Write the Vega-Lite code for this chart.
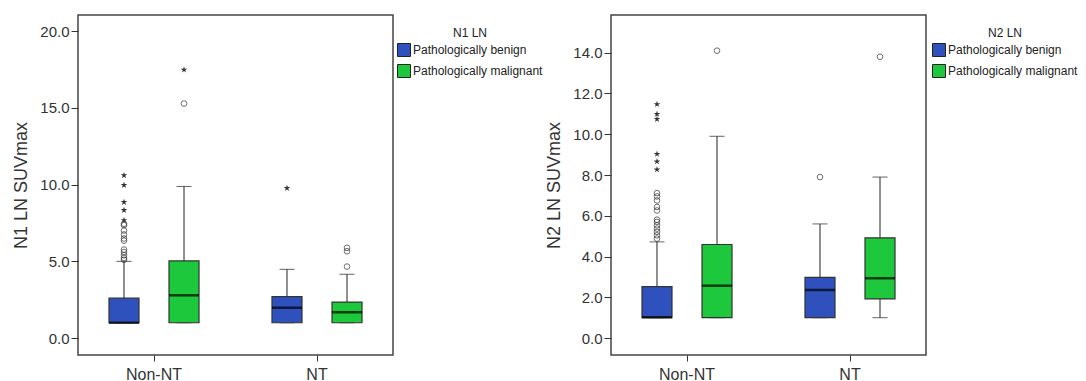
{
  "$schema": "https://vega.github.io/schema/vega-lite/v6.json",
  "padding": {"left": 12, "top": 14, "right": 0, "bottom": 0},
  "bounds": "flush",
  "spacing": 218,
  "datasets": {
    "box1": [
      {"group": "Non-NT", "type": "Pathologically benign", "lower": 1.0, "q1": 1.0, "median": 1.0, "q3": 2.6, "upper": 5.0},
      {"group": "Non-NT", "type": "Pathologically malignant", "lower": 1.0, "q1": 1.0, "median": 2.79, "q3": 5.03, "upper": 9.88},
      {"group": "NT", "type": "Pathologically benign", "lower": 1.0, "q1": 1.0, "median": 1.98, "q3": 2.7, "upper": 4.48},
      {"group": "NT", "type": "Pathologically malignant", "lower": 1.0, "q1": 1.0, "median": 1.68, "q3": 2.35, "upper": 4.16}
    ],
    "out1": [
      {"group": "Non-NT", "type": "Pathologically benign", "value": 5.1, "kind": "circle"},
      {"group": "Non-NT", "type": "Pathologically benign", "value": 5.22, "kind": "circle"},
      {"group": "Non-NT", "type": "Pathologically benign", "value": 5.4, "kind": "circle"},
      {"group": "Non-NT", "type": "Pathologically benign", "value": 5.61, "kind": "circle"},
      {"group": "Non-NT", "type": "Pathologically benign", "value": 5.77, "kind": "circle"},
      {"group": "Non-NT", "type": "Pathologically benign", "value": 6.35, "kind": "circle"},
      {"group": "Non-NT", "type": "Pathologically benign", "value": 6.49, "kind": "circle"},
      {"group": "Non-NT", "type": "Pathologically benign", "value": 6.75, "kind": "circle"},
      {"group": "Non-NT", "type": "Pathologically benign", "value": 7.01, "kind": "circle"},
      {"group": "Non-NT", "type": "Pathologically benign", "value": 7.36, "kind": "circle"},
      {"group": "Non-NT", "type": "Pathologically benign", "value": 7.45, "kind": "circle"},
      {"group": "Non-NT", "type": "Pathologically benign", "value": 7.68, "kind": "star"},
      {"group": "Non-NT", "type": "Pathologically benign", "value": 8.34, "kind": "star"},
      {"group": "Non-NT", "type": "Pathologically benign", "value": 8.86, "kind": "star"},
      {"group": "Non-NT", "type": "Pathologically benign", "value": 9.97, "kind": "star"},
      {"group": "Non-NT", "type": "Pathologically benign", "value": 10.6, "kind": "star"},
      {"group": "Non-NT", "type": "Pathologically malignant", "value": 15.28, "kind": "circle"},
      {"group": "Non-NT", "type": "Pathologically malignant", "value": 17.48, "kind": "star"},
      {"group": "NT", "type": "Pathologically benign", "value": 9.77, "kind": "star"},
      {"group": "NT", "type": "Pathologically malignant", "value": 4.66, "kind": "circle"},
      {"group": "NT", "type": "Pathologically malignant", "value": 5.66, "kind": "circle"},
      {"group": "NT", "type": "Pathologically malignant", "value": 5.88, "kind": "circle"}
    ],
    "box2": [
      {"group": "Non-NT", "type": "Pathologically benign", "lower": 1.0, "q1": 1.0, "median": 1.02, "q3": 2.52, "upper": 4.72},
      {"group": "Non-NT", "type": "Pathologically malignant", "lower": 1.0, "q1": 1.0, "median": 2.57, "q3": 4.59, "upper": 9.9},
      {"group": "NT", "type": "Pathologically benign", "lower": 1.0, "q1": 1.0, "median": 2.36, "q3": 2.98, "upper": 5.6},
      {"group": "NT", "type": "Pathologically malignant", "lower": 1.0, "q1": 1.92, "median": 2.93, "q3": 4.92, "upper": 7.9}
    ],
    "out2": [
      {"group": "Non-NT", "type": "Pathologically benign", "value": 4.88, "kind": "circle"},
      {"group": "Non-NT", "type": "Pathologically benign", "value": 5.04, "kind": "circle"},
      {"group": "Non-NT", "type": "Pathologically benign", "value": 5.21, "kind": "circle"},
      {"group": "Non-NT", "type": "Pathologically benign", "value": 5.37, "kind": "circle"},
      {"group": "Non-NT", "type": "Pathologically benign", "value": 5.53, "kind": "circle"},
      {"group": "Non-NT", "type": "Pathologically benign", "value": 5.7, "kind": "circle"},
      {"group": "Non-NT", "type": "Pathologically benign", "value": 5.81, "kind": "circle"},
      {"group": "Non-NT", "type": "Pathologically benign", "value": 6.26, "kind": "circle"},
      {"group": "Non-NT", "type": "Pathologically benign", "value": 6.43, "kind": "circle"},
      {"group": "Non-NT", "type": "Pathologically benign", "value": 6.75, "kind": "circle"},
      {"group": "Non-NT", "type": "Pathologically benign", "value": 6.95, "kind": "circle"},
      {"group": "Non-NT", "type": "Pathologically benign", "value": 7.11, "kind": "circle"},
      {"group": "Non-NT", "type": "Pathologically benign", "value": 8.27, "kind": "star"},
      {"group": "Non-NT", "type": "Pathologically benign", "value": 8.66, "kind": "star"},
      {"group": "Non-NT", "type": "Pathologically benign", "value": 9.03, "kind": "star"},
      {"group": "Non-NT", "type": "Pathologically benign", "value": 10.74, "kind": "star"},
      {"group": "Non-NT", "type": "Pathologically benign", "value": 10.99, "kind": "star"},
      {"group": "Non-NT", "type": "Pathologically benign", "value": 11.47, "kind": "star"},
      {"group": "Non-NT", "type": "Pathologically malignant", "value": 14.1, "kind": "circle"},
      {"group": "NT", "type": "Pathologically benign", "value": 7.9, "kind": "circle"},
      {"group": "NT", "type": "Pathologically malignant", "value": 13.8, "kind": "circle"}
    ]
  },
  "hconcat": [
    {
      "width": 315,
      "height": 340,
      "encoding": {
        "x": {"field": "group", "type": "nominal", "sort": ["Non-NT", "NT"], "scale": {"range": [-5.5, 320.5], "paddingInner": 0, "paddingOuter": 0}, "axis": {"title": null, "labelAngle": 0, "domain": false, "tickSize": 6, "labelFontSize": 16, "labelPadding": 5}},
        "xOffset": {"field": "type", "type": "nominal", "sort": ["Pathologically benign", "Pathologically malignant"], "scale": {"paddingInner": 0.5, "paddingOuter": 0.608}}
      },
      "layer": [
        {"data": {"name": "box1"}, "mark": {"type": "rule", "color": "#222", "strokeWidth": 1},
         "encoding": {"y": {"field": "lower", "type": "quantitative", "scale": {"domain": [-1.1, 21.05], "nice": false, "zero": false}, "axis": {"title": "N1 LN SUVmax", "values": [0, 5, 10, 15, 20], "format": ".1f", "grid": false, "domain": false, "tickSize": 7, "labelFontSize": 15, "labelPadding": 2, "titleFontSize": 18, "titlePadding": 9}}, "y2": {"field": "upper"}}},
        {"data": {"name": "box1"}, "mark": {"type": "tick", "color": "#222", "size": 15, "thickness": 1, "orient": "horizontal"},
         "encoding": {"y": {"field": "upper", "type": "quantitative"}}},
        {"data": {"name": "box1"}, "mark": {"type": "tick", "color": "#222", "size": 15, "thickness": 1, "orient": "horizontal"},
         "encoding": {"y": {"field": "lower", "type": "quantitative"}}},
        {"data": {"name": "box1"}, "mark": {"type": "bar", "stroke": "#333", "strokeWidth": 1.2, "opacity": 1},
         "encoding": {"y": {"field": "q1", "type": "quantitative"}, "y2": {"field": "q3"},
           "color": {"field": "type", "type": "nominal", "scale": {"domain": ["Pathologically benign", "Pathologically malignant"], "range": ["#2f51bd", "#1ec83c"]},
             "legend": {"title": "N1 LN", "orient": "none", "legendX": 319, "legendY": 13, "titleAnchor": "middle", "symbolType": "square", "symbolSize": 169, "symbolStrokeColor": "#222", "symbolStrokeWidth": 1, "symbolOpacity": 1, "labelFontSize": 12, "titleFontSize": 12, "titleFontWeight": "normal", "rowPadding": 3, "titlePadding": 3, "labelOffset": 2, "padding": 0}}}},
        {"data": {"name": "box1"}, "mark": {"type": "tick", "color": "#000", "size": 30, "thickness": 2.5, "orient": "horizontal"},
         "encoding": {"y": {"field": "median", "type": "quantitative"}}},
        {"data": {"name": "out1"}, "transform": [{"filter": "datum.kind === 'circle'"}], "mark": {"type": "point", "shape": "circle", "filled": false, "stroke": "#333", "strokeWidth": 1, "size": 32},
         "encoding": {"y": {"field": "value", "type": "quantitative"}}},
        {"data": {"name": "out1"}, "transform": [{"filter": "datum.kind === 'star'"}], "mark": {"type": "point", "shape": "M0,-1L0.22,-0.31L0.95,-0.31L0.36,0.12L0.59,0.81L0,0.38L-0.59,0.81L-0.36,0.12L-0.95,-0.31L-0.22,-0.31Z", "filled": true, "color": "#333", "opacity": 1, "size": 48},
         "encoding": {"y": {"field": "value", "type": "quantitative"}}}
      ]
    },
    {
      "width": 315,
      "height": 340,
      "encoding": {
        "x": {"field": "group", "type": "nominal", "sort": ["Non-NT", "NT"], "scale": {"range": [-5.5, 320.5], "paddingInner": 0, "paddingOuter": 0}, "axis": {"title": null, "labelAngle": 0, "domain": false, "tickSize": 6, "labelFontSize": 16, "labelPadding": 5}},
        "xOffset": {"field": "type", "type": "nominal", "sort": ["Pathologically benign", "Pathologically malignant"], "scale": {"paddingInner": 0.5, "paddingOuter": 0.608}}
      },
      "layer": [
        {"data": {"name": "box2"}, "mark": {"type": "rule", "color": "#222", "strokeWidth": 1},
         "encoding": {"y": {"field": "lower", "type": "quantitative", "scale": {"domain": [-0.83, 15.85], "nice": false, "zero": false}, "axis": {"title": "N2 LN SUVmax", "values": [0, 2, 4, 6, 8, 10, 12, 14], "format": ".1f", "grid": false, "domain": false, "tickSize": 7, "labelFontSize": 15, "labelPadding": 2, "titleFontSize": 18, "titlePadding": 9}}, "y2": {"field": "upper"}}},
        {"data": {"name": "box2"}, "mark": {"type": "tick", "color": "#222", "size": 15, "thickness": 1, "orient": "horizontal"},
         "encoding": {"y": {"field": "upper", "type": "quantitative"}}},
        {"data": {"name": "box2"}, "mark": {"type": "tick", "color": "#222", "size": 15, "thickness": 1, "orient": "horizontal"},
         "encoding": {"y": {"field": "lower", "type": "quantitative"}}},
        {"data": {"name": "box2"}, "mark": {"type": "bar", "stroke": "#333", "strokeWidth": 1.2, "opacity": 1},
         "encoding": {"y": {"field": "q1", "type": "quantitative"}, "y2": {"field": "q3"},
           "color": {"field": "type", "type": "nominal", "scale": {"domain": ["Pathologically benign", "Pathologically malignant"], "range": ["#2f51bd", "#1ec83c"]},
             "legend": {"title": "N2 LN", "orient": "none", "legendX": 321, "legendY": 13, "titleAnchor": "middle", "symbolType": "square", "symbolSize": 169, "symbolStrokeColor": "#222", "symbolStrokeWidth": 1, "symbolOpacity": 1, "labelFontSize": 12, "titleFontSize": 12, "titleFontWeight": "normal", "rowPadding": 3, "titlePadding": 3, "labelOffset": 2, "padding": 0}}}},
        {"data": {"name": "box2"}, "mark": {"type": "tick", "color": "#000", "size": 30, "thickness": 2.5, "orient": "horizontal"},
         "encoding": {"y": {"field": "median", "type": "quantitative"}}},
        {"data": {"name": "out2"}, "transform": [{"filter": "datum.kind === 'circle'"}], "mark": {"type": "point", "shape": "circle", "filled": false, "stroke": "#333", "strokeWidth": 1, "size": 32},
         "encoding": {"y": {"field": "value", "type": "quantitative"}}},
        {"data": {"name": "out2"}, "transform": [{"filter": "datum.kind === 'star'"}], "mark": {"type": "point", "shape": "M0,-1L0.22,-0.31L0.95,-0.31L0.36,0.12L0.59,0.81L0,0.38L-0.59,0.81L-0.36,0.12L-0.95,-0.31L-0.22,-0.31Z", "filled": true, "color": "#333", "opacity": 1, "size": 48},
         "encoding": {"y": {"field": "value", "type": "quantitative"}}}
      ]
    }
  ],
  "resolve": {"scale": {"color": "independent", "y": "independent", "x": "independent"}, "legend": {"color": "independent"}},
  "config": {
    "font": "Liberation Sans",
    "view": {"stroke": "#444", "strokeWidth": 1.5},
    "axis": {"labelColor": "#333", "titleColor": "#333", "tickColor": "#333", "titleFontWeight": "normal"},
    "legend": {"labelColor": "#222", "titleColor": "#222"}
  }
}
